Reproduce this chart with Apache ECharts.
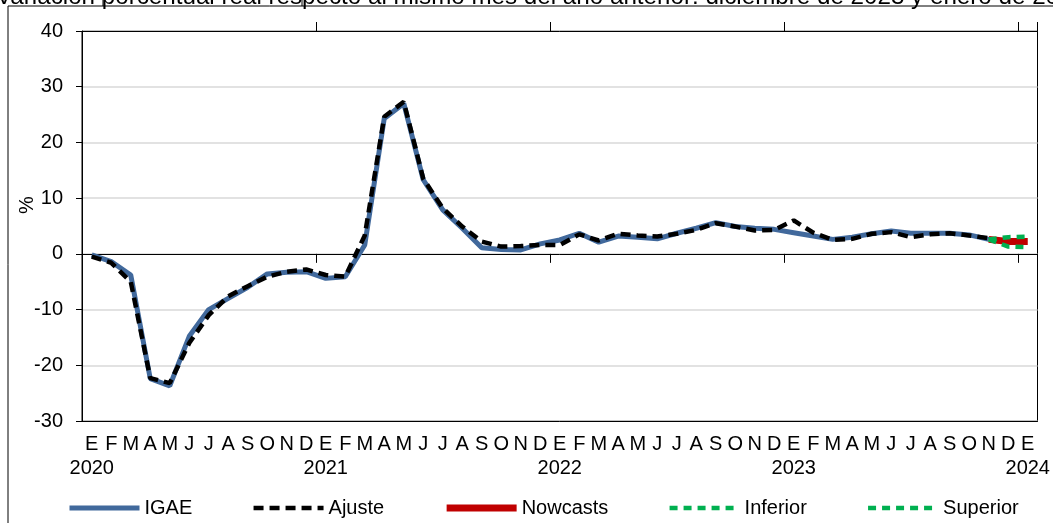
<!DOCTYPE html>
<html>
<head>
<meta charset="utf-8">
<title>IGAE nowcast</title>
<script src="https://cdn.jsdelivr.net/npm/echarts@6/dist/echarts.min.js"></script>
<style>
html, body { margin: 0; padding: 0; background: #fff; }
#chart { width: 1053px; height: 523px; }
</style>
</head>
<body>
<div id="chart"></div>
<script>
var meses = ['E', 'F', 'M', 'A', 'M', 'J', 'J', 'A', 'S', 'O', 'N', 'D'];
var anios = ['2020', '2021', '2022', '2023', '2024'];

// variacion anual, enero 2020 - noviembre 2023
var igae = [-0.2, -1.4, -3.8, -22.4, -23.7, -14.8, -10.0, -8.0, -6.0, -3.6, -3.3, -3.2,
            -4.4, -4.1, 1.6, 24.3, 27.0, 13.3, 7.9, 4.6, 1.1, 0.8, 0.7, 1.8,
            2.5, 3.7, 2.1, 3.2, 3.0, 2.7, 3.7, 4.6, 5.6, 4.9, 4.6, 4.4,
            3.8, 3.2, 2.6, 3.0, 3.6, 4.1, 3.7, 3.7, 3.7, 3.4, 2.6];
var ajuste = [-0.5, -1.6, -5.0, -22.3, -23.2, -16.0, -11.0, -7.6, -5.8, -4.1, -3.2, -2.8,
              -3.8, -4.1, 3.3, 24.6, 27.3, 13.5, 8.2, 4.9, 2.2, 1.3, 1.4, 1.6,
              1.6, 3.5, 2.4, 3.6, 3.3, 3.1, 3.6, 4.3, 5.5, 4.9, 4.2, 4.3,
              6.0, 3.8, 2.5, 2.7, 3.6, 3.9, 3.0, 3.5, 3.7, 3.3, 2.8];
// noviembre 2023, diciembre 2023, enero 2024
var inicioNowcast = 46;
var nowcasts = [2.6, 2.2, 2.2];
var inferior = [2.6, 1.3, 1.2];
var superior = [2.6, 3.0, 3.1];

var titulo = 'Variación porcentual real respecto al mismo mes del año anterior: diciembre de 2023 y enero de 2024';

var categorias = [];
for (var a = 0; a < anios.length; a++) {
    for (var m = 0; m < meses.length; m++) {
        if (a == anios.length - 1 && m > 0) break;
        categorias.push(meses[m] + ' ' + anios[a]);
    }
}

function tramo(valores) {
    return valores.map(function (v, i) { return [inicioNowcast + i, v]; });
}

var fuente = 'Liberation Sans, Arial, sans-serif';

var dom = document.getElementById('chart');
var myChart = echarts.init(dom);
var option = {
    animation: false,
    backgroundColor: '#fff',
    textStyle: { fontFamily: fuente },
    grid: {
        left: 82, top: 31, right: 15.5, bottom: 102,
        show: true, borderColor: '#000', borderWidth: 1
    },
    legend: {
        left: 67, top: 498, padding: 0,
        itemWidth: 70, itemHeight: 14, itemGap: 59,
        itemStyle: { opacity: 0 },
        lineStyle: { width: 'inherit' },
        textStyle: { fontSize: 20, color: '#000', fontFamily: fuente },
        data: ['IGAE', 'Ajuste', 'Nowcasts', 'Inferior', 'Superior']
    },
    xAxis: [
        {
            type: 'category', data: categorias, position: 'bottom', boundaryGap: true,
            axisLine: { onZero: false, lineStyle: { color: '#000', width: 1 } },
            axisTick: { show: false },
            axisLabel: {
                interval: 0, margin: 11, fontSize: 20, lineHeight: 24, color: '#000', fontFamily: fuente,
                formatter: function (value, i) {
                    var p = value.split(' ');
                    return p[0] + '\n' + (i % 12 == 0 ? p[1] : '');
                }
            }
        },
        {
            type: 'category', data: categorias, position: 'bottom', boundaryGap: true,
            axisLine: { onZero: true, lineStyle: { color: '#000', width: 1 } },
            axisTick: { show: true, length: 9, lineStyle: { color: '#000' },
                interval: function (i) { return i > 0 && i % 12 == 0; } },
            axisLabel: { show: false }
        },
        {
            type: 'category', data: categorias, position: 'top', boundaryGap: true,
            axisLine: { onZero: true, lineStyle: { color: '#000', width: 1 } },
            axisTick: { show: true, length: 9, lineStyle: { color: '#000' },
                interval: function (i) { return i > 0 && i % 12 == 0; } },
            axisLabel: { show: false }
        }
    ],
    yAxis: {
        type: 'value', min: -30, max: 40, interval: 10,
        axisLine: { show: true, lineStyle: { color: '#000' } },
        axisTick: { show: true, length: 6, lineStyle: { color: '#000' } },
        axisLabel: { fontSize: 20, color: '#000', margin: 19, fontFamily: fuente },
        splitLine: { lineStyle: { color: '#d9d9d9', width: 1.5 } }
    },
    series: [
        {
            name: 'IGAE', type: 'line', data: igae, symbol: 'none',
            lineStyle: { color: '#41699c', width: 5 }, itemStyle: { color: '#41699c' }
        },
        {
            name: 'Ajuste', type: 'line', data: ajuste, symbol: 'none',
            lineStyle: { color: '#000', width: 4.5, type: [10, 6] }, itemStyle: { color: '#000' }
        },
        {
            name: 'Nowcasts', type: 'line', data: tramo(nowcasts), symbol: 'none',
            lineStyle: { color: '#c00000', width: 7 }, itemStyle: { color: '#c00000' }
        },
        {
            name: 'Inferior', type: 'line', data: tramo(inferior), symbol: 'none',
            lineStyle: { color: '#00b050', width: 4.5, type: [8, 6] }, itemStyle: { color: '#00b050' }
        },
        {
            name: 'Superior', type: 'line', data: tramo(superior), symbol: 'none',
            lineStyle: { color: '#00b050', width: 4.5, type: [8, 6] }, itemStyle: { color: '#00b050' }
        }
    ],
    graphic: [
        { type: 'text', x: -4, y: -3, z: 10,
          style: { text: titulo, font: '24.2px ' + fuente, fill: '#000', align: 'left', verticalAlign: 'middle' } },
        { type: 'line', shape: { x1: 8, y1: 6, x2: 1053, y2: 6 }, style: { stroke: '#000', lineWidth: 1 } },
        { type: 'line', shape: { x1: 8, y1: 6, x2: 8, y2: 523 }, style: { stroke: '#000', lineWidth: 1 } },
        { type: 'line', shape: { x1: 103, y1: 0, x2: 103, y2: 6 }, style: { stroke: '#000', lineWidth: 1 } },
        { type: 'line', shape: { x1: 302, y1: 0, x2: 302, y2: 6 }, style: { stroke: '#000', lineWidth: 1 } },
        { type: 'text', x: 27, y: 205, rotation: Math.PI / 2,
          style: { text: '%', font: '20px ' + fuente, fill: '#000', align: 'center', verticalAlign: 'middle' } }
    ]
};

if (option && typeof option === 'object') {
    myChart.setOption(option, true);
}
</script>
</body>
</html>
